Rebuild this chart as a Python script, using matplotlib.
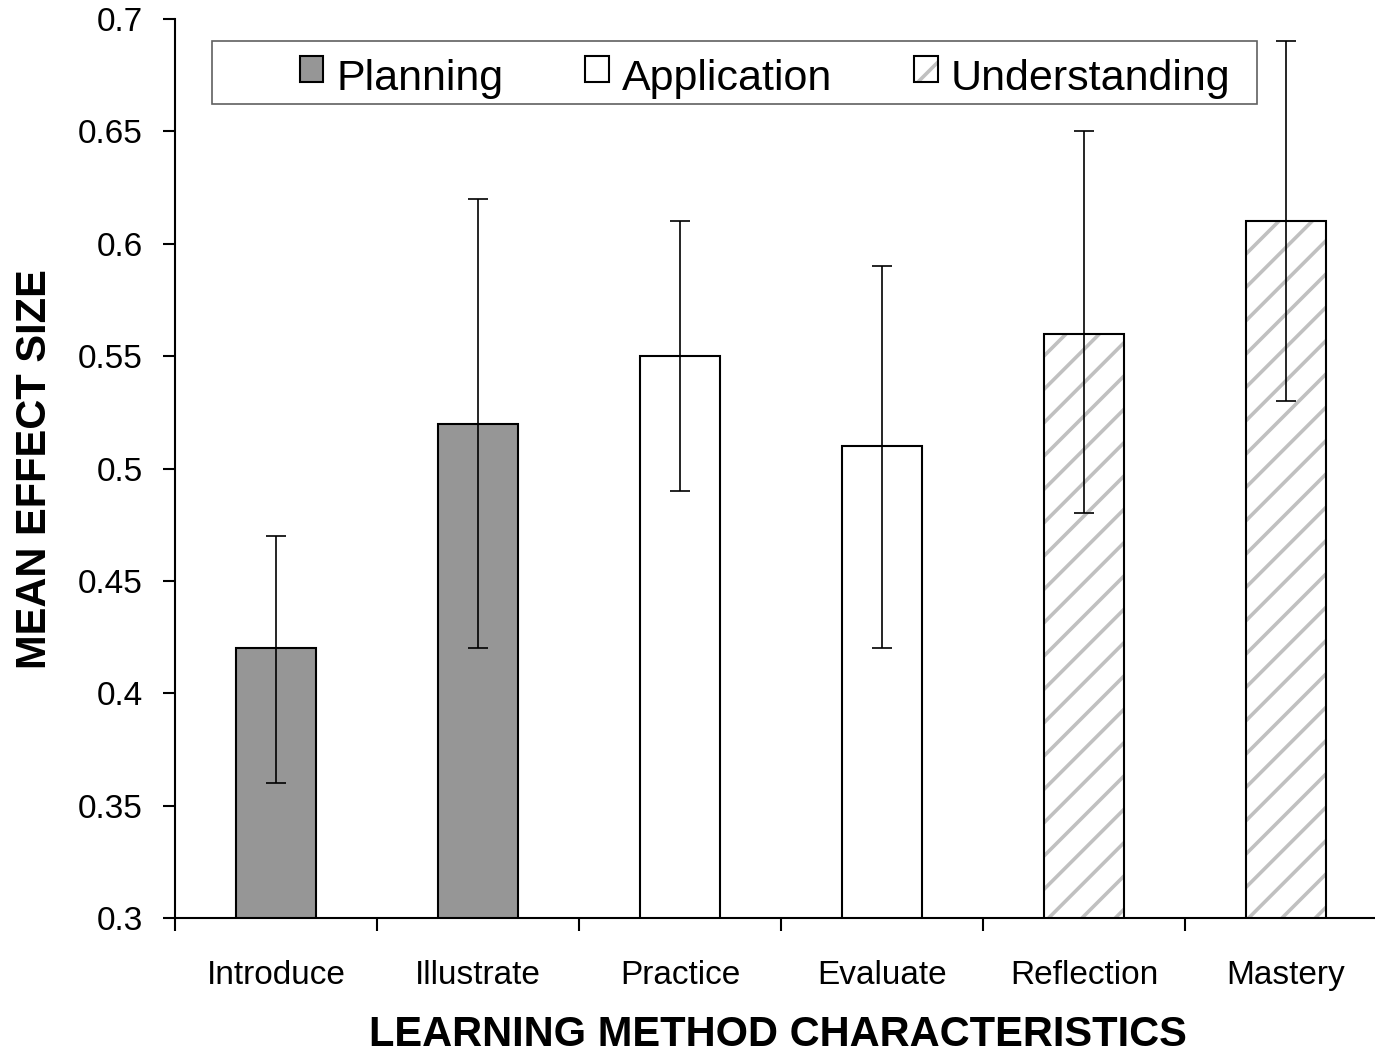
import numpy as np
import matplotlib
matplotlib.use("Agg")
import matplotlib.pyplot as plt
from matplotlib.patches import Patch, Rectangle
from matplotlib.legend_handler import HandlerBase

plt.rcParams["font.family"] = ["Liberation Sans", "DejaVu Sans"]
plt.rcParams["hatch.linewidth"] = 2.6

categories = ["Introduce", "Illustrate", "Practice", "Evaluate", "Reflection", "Mastery"]
means = [0.42, 0.52, 0.55, 0.51, 0.56, 0.61]
lower = [0.36, 0.42, 0.49, 0.42, 0.48, 0.53]
upper = [0.47, 0.62, 0.61, 0.59, 0.65, 0.69]
groups = ["Planning", "Planning", "Application", "Application", "Understanding", "Understanding"]

group_style = {
    "Planning": dict(facecolor="#969696", hatch=None),
    "Application": dict(facecolor="white", hatch=None),
    "Understanding": dict(facecolor="white", hatch="/"),
}
HATCH_COLOR = "#c0c0c0"


class SwatchHandler(HandlerBase):
    # gray hatch under a black outline, nudged up a bit like the original legend
    def create_artists(self, legend, orig_handle, xdescent, ydescent, width, height,
                       fontsize, trans):
        dy = 0.22 * height
        fill = Rectangle((-xdescent, -ydescent + dy), width, height,
                         facecolor=orig_handle.get_facecolor(), hatch=orig_handle.get_hatch(),
                         edgecolor=HATCH_COLOR, linewidth=0, transform=trans)
        edge = Rectangle((-xdescent, -ydescent + dy), width, height, facecolor="none",
                         edgecolor="black", linewidth=1.5, transform=trans)
        return [fill, edge]


fig = plt.figure(figsize=(13.75, 10.57), dpi=100)
ax = fig.add_axes([175 / 1375, 1 - 918 / 1057, (1387 - 175) / 1375, (918 - 19) / 1057])

x = np.arange(len(categories))
means_a = np.array(means)
yerr = [means_a - np.array(lower), np.array(upper) - means_a]

for i, g in enumerate(groups):
    st = group_style[g]
    # fill + hatch in light gray, then black outline on top
    ax.bar(x[i], means[i], width=0.4, facecolor=st["facecolor"], hatch=st["hatch"],
           edgecolor=HATCH_COLOR, linewidth=0, zorder=2)
    ax.bar(x[i], means[i], width=0.4, facecolor="none", edgecolor="black",
           linewidth=1.5, zorder=2.5)

ax.errorbar(x, means, yerr=yerr, fmt="none", ecolor="black", elinewidth=1.2,
            capsize=7.5, capthick=1.2, zorder=3)

ax.set_ylim(0.3, 0.7)
ax.set_xlim(-0.5, len(categories) - 0.5)
ax.set_yticks(np.arange(0.3, 0.701, 0.05))
ax.set_yticklabels(["0.3", "0.35", "0.4", "0.45", "0.5", "0.55", "0.6", "0.65", "0.7"])
ax.set_xticks(np.arange(-0.5, len(categories), 1.0))
ax.set_xticklabels([])
ax.set_xticks(x, minor=True)
ax.set_xticklabels(categories, minor=True)
ax.tick_params(axis="x", which="minor", length=0, pad=30, labelsize=24)
ax.tick_params(axis="x", which="major", length=9, width=1.5, direction="out")
ax.tick_params(axis="y", length=9, width=1.5, direction="out", labelsize=24, pad=14)

for s in ["top", "right"]:
    ax.spines[s].set_visible(False)
for s in ["left", "bottom"]:
    ax.spines[s].set_linewidth(1.5)

ax.set_ylabel("MEAN EFFECT SIZE", fontsize=30, fontweight="bold")
ax.yaxis.set_label_coords((35 - 175) / 1212, (918 - 469) / 899)
ax.set_xlabel("LEARNING METHOD CHARACTERISTICS", fontsize=30, fontweight="bold")
ax.xaxis.set_label_coords((778 - 175) / 1212, (918 - 1035) / 899)
ax.xaxis.label.set_va("center")
ax.yaxis.label.set_va("center")

# legend frame drawn separately so the entries can sit off-centre like the original
ax.add_patch(Rectangle(((212 - 175) / 1212, (918 - 104) / 899), (1257 - 212) / 1212, 63 / 899,
                       transform=ax.transAxes, facecolor="white", edgecolor="#606060",
                       linewidth=1.2, zorder=4))

handles = []
for g in ["Planning", "Application", "Understanding"]:
    st = group_style[g]
    handles.append(Patch(facecolor=st["facecolor"], hatch=st["hatch"],
                         edgecolor="black", linewidth=1.5, label=g))
leg = ax.legend(handles=handles, ncol=3, loc="center",
                bbox_to_anchor=((765 - 175) / 1212, (918 - 79) / 899),
                fontsize=31, frameon=False, handlelength=0.55, handleheight=0.55,
                handletextpad=0.3, columnspacing=1.9, borderpad=0, borderaxespad=0,
                handler_map={Patch: SwatchHandler()})
leg.set_zorder(5)

fig.savefig("out.png", dpi=100)
